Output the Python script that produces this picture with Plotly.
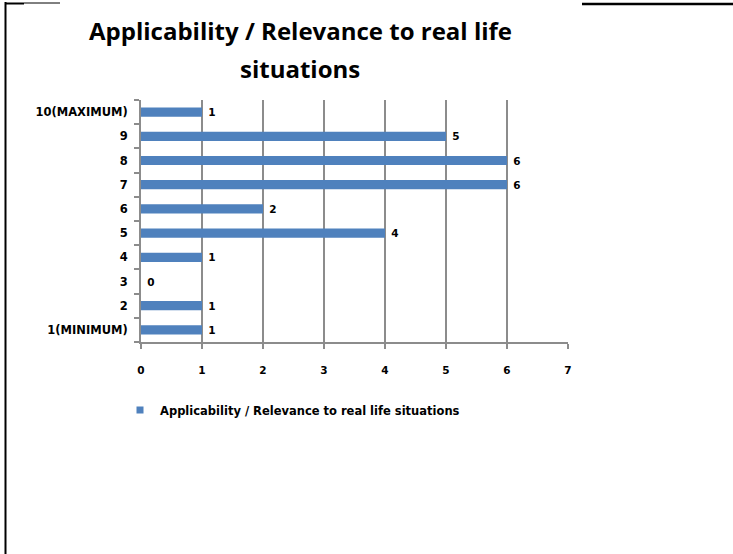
import plotly.graph_objects as go

categories = ["1(MINIMUM)", "2", "3", "4", "5", "6", "7", "8", "9", "10(MAXIMUM)"]
values = [1, 1, 0, 1, 4, 2, 6, 6, 5, 1]
series_name = "Applicability / Relevance to real life situations"
title_lines = ["Applicability / Relevance to real life", "situations"]
x_ticks = [0, 1, 2, 3, 4, 5, 6, 7]

W, H = 733, 554
L, R, T, B = 141, 165, 100, 212
pw, ph = W - L - R, H - T - B

def px(x):
    return (x - L) / pw

def py(y):
    return (H - B - y) / ph

small_font = dict(family="DejaVu Sans", size=11.5, color="#000000")
tick_font = dict(family="DejaVu Sans", size=10.5, color="#000000")

fig = go.Figure()
fig.add_trace(go.Bar(
    y=categories, x=values, orientation="h", name=series_name,
    marker=dict(color="#4F81BD", line=dict(width=0)),
    width=0.38, showlegend=False,
    text=[str(v) for v in values], texttemplate=" <b>%{text}</b>", textposition="outside",
    textfont=tick_font, constraintext="none",
    cliponaxis=False,
))
# legend entry (small square key like the original)
fig.add_trace(go.Scatter(
    x=[None], y=[None], mode="markers", name="<b>" + series_name + "</b>",
    marker=dict(symbol="square", size=7, color="#4F81BD"), showlegend=True,
))

fig.update_layout(
    width=W, height=H,
    margin=dict(l=L, r=R, t=T, b=B),
    paper_bgcolor="white", plot_bgcolor="white",
    showlegend=True,
    legend=dict(orientation="h", x=px(120), y=py(410), xanchor="left", yanchor="middle",
                font=small_font, bgcolor="rgba(0,0,0,0)", itemwidth=30),
    xaxis=dict(range=[0, 7], tickvals=x_ticks, ticktext=["<b>%d</b>" % t for t in x_ticks],
               showgrid=True, gridcolor="#8C8C8C", gridwidth=2,
               showline=True, linecolor="#8C8C8C", linewidth=2, ticks="outside", ticklen=5,
               tickcolor="#8C8C8C", tickwidth=2, tickfont=tick_font, ticklabelstandoff=12,
               zeroline=False, fixedrange=True),
    yaxis=dict(type="category", categoryorder="array", categoryarray=categories,
               tickvals=categories, ticktext=["<b>%s</b>" % c for c in categories],
               range=[-0.5, 9.5], tickson="boundaries", ticks="outside", ticklen=5,
               tickcolor="#8C8C8C", tickwidth=2, showline=True, linecolor="#8C8C8C", linewidth=2,
               showgrid=False, tickfont=small_font, ticklabelstandoff=9, fixedrange=True),
    bargap=0.6,
)

for line, yy in zip(title_lines, [30, 68]):
    fig.add_annotation(text="<b>" + line + "</b>", xref="paper", yref="paper",
                       x=px(300), y=py(yy), xanchor="center", yanchor="middle",
                       showarrow=False,
                       font=dict(family="Open Sans", size=24, color="#000000"))

# page/table borders
fig.add_shape(type="line", xref="paper", yref="paper", x0=px(5.5), x1=px(5.5), y0=py(2), y1=py(554),
              line=dict(color="black", width=2))
fig.add_shape(type="line", xref="paper", yref="paper", x0=px(5.5), x1=px(24), y0=py(3.5), y1=py(3.5),
              line=dict(color="black", width=2))
fig.add_shape(type="line", xref="paper", yref="paper", x0=px(24), x1=px(60), y0=py(3), y1=py(3),
              line=dict(color="black", width=1))
fig.add_shape(type="line", xref="paper", yref="paper", x0=px(582), x1=px(733), y0=py(4), y1=py(4),
              line=dict(color="black", width=2.5))

fig.write_html("out.html", config={"displayModeBar": False},
               post_script="document.body.style.margin='0';")
